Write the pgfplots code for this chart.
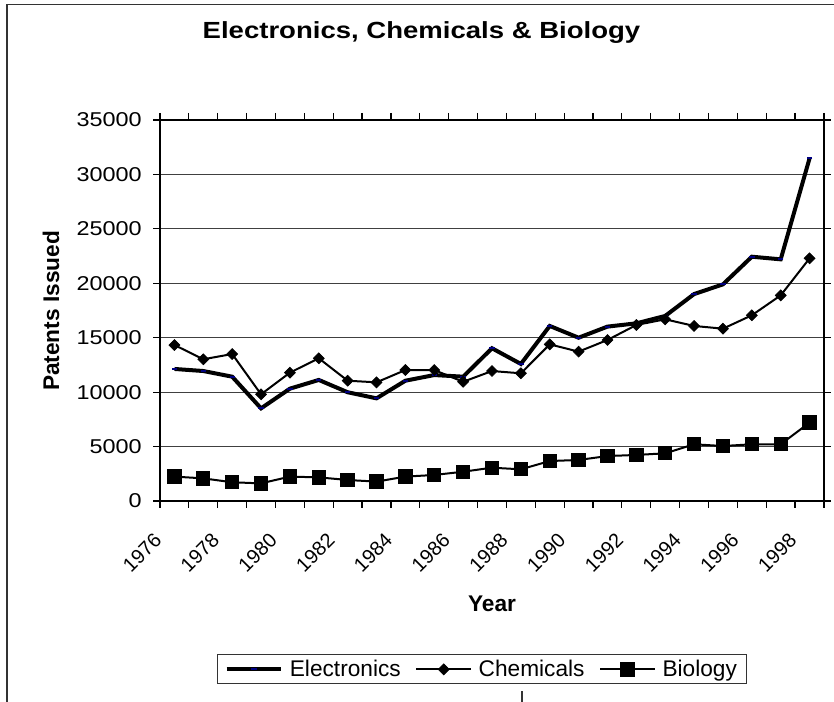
\documentclass[border=0pt]{standalone}
\usepackage{pgfplots}
\pgfplotsset{compat=1.18}
\usepackage{pgfplotstable}
\usepackage{graphicx}
\usepackage{fontspec}
\setmainfont{Liberation Sans}

\definecolor{navy}{RGB}{0,0,128}

\newcommand\tickfont{\fontsize{15}{18}\selectfont}
\newcommand\titlefont{\fontsize{17.5}{21}\selectfont\bfseries}
\newcommand\labfont{\fontsize{17}{20}\selectfont\bfseries}
\newcommand\legfont{\fontsize{17}{20}\selectfont}
\newcommand\wy[1]{\scalebox{1.17}[1]{\tickfont #1}}
\newcommand\xl[1]{\mbox{\tickfont #1}}

% Patents issued per year, by field
\pgfplotstableread{
year  elec   chem   bio
1976  12130  14330  2240
1977  11940  13020  2080
1978  11420  13500  1720
1979   8510   9800  1620
1980  10320  11790  2240
1981  11120  13110  2170
1982   9990  11050  1930
1983   9430  10900  1780
1984  11050  12030  2240
1985  11570  12030  2390
1986  11420  10950  2690
1987  14030  11940  3060
1988  12590  11730  2910
1989  16080  14390  3670
1990  15000  13720  3770
1991  16020  14790  4130
1992  16320  16170  4230
1993  17000  16690  4380
1994  19010  16080  5210
1995  19900  15830  5050
1996  22440  17060  5210
1997  22200  18890  5210
1998  31480  22290  7200
}\patents

\begin{document}
\begin{tikzpicture}[x=0.75pt,y=0.75pt]
\path[use as bounding box] (0,0) rectangle (834,702);
% chart area frame
\draw[black!80, line width=0.9pt] (7,0) -- (7,697.5) -- (834,697.5);
\draw[black!80, line width=0.9pt] (522,0) -- (522,11);

\begin{axis}[
  at={(120pt,150.75pt)}, anchor=south west,
  scale only axis, width=498pt, height=285.75pt,
  xmin=1975.5, xmax=1998.5, ymin=0, ymax=35000,
  axis line style={black, line width=1.6pt},
  xtick={1975.5,1976.5,...,1998.5},
  xticklabels={\xl{1976},,\xl{1978},,\xl{1980},,\xl{1982},,\xl{1984},,\xl{1986},,
    \xl{1988},,\xl{1990},,\xl{1992},,\xl{1994},,\xl{1996},,\xl{1998},},
  ytick={0,5000,...,35000},
  yticklabels={\wy{0},\wy{5000},\wy{10000},\wy{15000},\wy{20000},\wy{25000},\wy{30000},\wy{35000}},
  scaled y ticks=false,
  tick align=outside,
  major tick length=5.25pt,
  tick style={black, line width=0.9pt},
  ymajorgrids, grid style={black!75, line width=0.75pt},
  xticklabel style={font=\tickfont, xshift=-1.5pt, rotate=45, anchor=east, inner sep=0pt},
  yticklabel style={font=\tickfont, anchor=east, inner sep=0pt},
  xticklabel shift=21.75pt, yticklabel shift=8.25pt,
  legend columns=-1,
  legend style={at={(axis description cs:0.485,-0.442)}, anchor=center,
    draw=black!80, line width=0.75pt, font=\legfont,
    inner ysep=2pt, inner xsep=5pt,
    /tikz/every odd column/.append style={column sep=3pt},
    /tikz/every even column/.append style={column sep=9pt}},
  legend image code/.code={\draw[mark repeat=2,mark phase=2,#1]
    plot coordinates {(0pt,0pt) (20.5pt,0pt) (41pt,0pt)};},
]
\addplot[black, line width=3pt, mark=-, mark size=2pt,
  mark options={draw=navy, line width=1.5pt, solid}]
  table[x=year, y=elec] {\patents};
\addlegendentry{Electronics}
\addplot[black, line width=1.5pt, mark=square*, mark size=2.9pt,
  mark options={rotate=45, fill=black, line width=0.5pt}]
  table[x=year, y=chem] {\patents};
\addlegendentry{Chemicals}
\addplot[black, line width=1.5pt, mark=square*, mark size=5pt,
  mark options={fill=black, line width=0.75pt}]
  table[x=year, y=bio] {\patents};
\addlegendentry{Biology}
\end{axis}

\node[anchor=base, font=\titlefont] at (421.5,663)
  {\scalebox{1.18}[1]{Electronics, Chemicals \& Biology}};
\node[rotate=90, font=\labfont] at (51,391) {Patents Issued};
\node[anchor=base, font=\labfont] at (492,90) {Year};
\end{tikzpicture}
\end{document}
